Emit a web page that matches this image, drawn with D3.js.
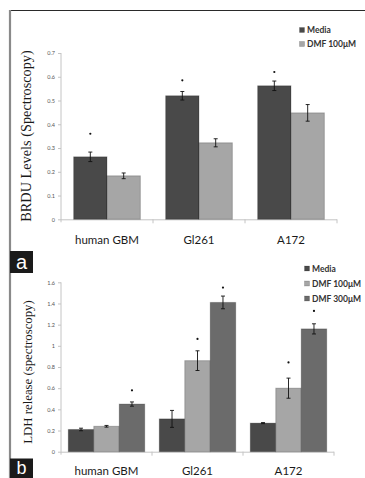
<!DOCTYPE html>
<html><head><meta charset="utf-8">
<script src="https://cdn.jsdelivr.net/npm/d3@7"></script>
<style>
html,body{margin:0;padding:0;background:#fff;}
svg{display:block;}
</style></head>
<body>
<svg id="chart" width="365" height="478"></svg>
<script>
// ---------- Data ----------
const categories = ["human GBM", "Gl261", "A172"];

// Panel a: BRDU levels
const brduSeries = ["Media", "DMF 100μM"];
const brduMedia = [0.263, 0.52, 0.562];
const brduDMF100 = [0.183, 0.322, 0.448];
const brduMediaErr = [0.02, 0.018, 0.02];
const brduDMF100Err = [0.012, 0.017, 0.035];
// asterisk heights (value units) for Media bars
const brduMediaStar = [0.36, 0.585, 0.62];
const brduTicks = [0, 0.1, 0.2, 0.3, 0.4, 0.5, 0.6, 0.7];
const brduTickLabels = ["0", "0.1", "0.2", "0.3", "0.4", "0.5", "0.6", "0.7"];

// Panel b: LDH release
const ldhSeries = ["Media", "DMF 100μM", "DMF 300μM"];
const ldhMedia = [0.21, 0.31, 0.27];
const ldhDMF100 = [0.24, 0.86, 0.60];
const ldhDMF300 = [0.45, 1.41, 1.16];
const ldhMediaErr = [0.012, 0.08, 0.005];
const ldhDMF100Err = [0.008, 0.093, 0.095];
const ldhDMF300Err = [0.02, 0.06, 0.048];
// asterisk heights (value units); null = no asterisk
const ldhDMF100Star = [null, 1.065, 0.843];
const ldhDMF300Star = [0.58, 1.55, 1.33];
const ldhTicks = [0, 0.2, 0.4, 0.6, 0.8, 1, 1.2, 1.4, 1.6];
const ldhTickLabels = ["0", "0.2", "0.4", "0.6", "0.8", "1", "1.2", "1.4", "1.6"];

const seriesColors = {"Media": "#494949", "DMF 100μM": "#a6a6a6", "DMF 300μM": "#6b6b6b"};

// ---------- Drawing ----------
const svg = d3.select("#chart");

// figure frame
svg.append("line").attr("x1", 10).attr("x2", 365).attr("y1", 10.5).attr("y2", 10.5)
  .attr("stroke", "#2a2a2a").attr("stroke-width", 1.2);
svg.append("line").attr("x1", 10).attr("x2", 10).attr("y1", 10).attr("y2", 478)
  .attr("stroke", "#8a8a8a").attr("stroke-width", 2.2);

function panel(cfg) {
  const g = svg.append("g");
  const x0 = d3.scaleBand().domain(categories).range(cfg.xRange)
    .paddingInner(cfg.pad).paddingOuter(cfg.pad / 2);
  const x1 = d3.scaleBand().domain(cfg.series).range([0, x0.bandwidth()]);
  const y = d3.scaleLinear().domain([cfg.ticks[0], cfg.ticks[cfg.ticks.length - 1]]).range(cfg.yRange);

  // y axis
  const yAxis = d3.axisLeft(y).tickValues(cfg.ticks)
    .tickFormat((d, i) => cfg.tickLabels[i]).tickSize(3).tickPadding(3);
  const ya = g.append("g").attr("transform", `translate(${cfg.xRange[0]},0)`).call(yAxis);
  ya.select(".domain").attr("stroke", "#c4c4c4").attr("d", `M-0,${cfg.yRange[1]}V${cfg.yRange[0] + 3}`);
  ya.selectAll(".tick line").attr("stroke", "#c4c4c4");
  ya.selectAll(".tick text").attr("fill", "#555").style("font-family", "Lato, 'DejaVu Sans', sans-serif")
    .style("font-size", "5.5px");

  // x axis line + boundary ticks
  const base = y(0);
  g.append("line").attr("x1", cfg.xRange[0]).attr("x2", cfg.xRange[1])
    .attr("y1", base + 0.5).attr("y2", base + 0.5).attr("stroke", "#c4c4c4");
  const bounds = d3.range(1, categories.length + 1).map(i => cfg.xRange[0] + i * x0.step());
  g.selectAll(".xt").data(bounds).join("line")
    .attr("x1", d => d).attr("x2", d => d).attr("y1", base).attr("y2", base + 4)
    .attr("stroke", "#c4c4c4");

  // bars
  categories.forEach((c, ci) => {
    cfg.series.forEach((s, si) => {
      const v = cfg.values[si][ci];
      const bx = x0(c) + x1(s);
      g.append("rect").attr("x", bx).attr("y", y(v)).attr("width", x1.bandwidth())
        .attr("height", base - y(v)).attr("fill", seriesColors[s])
        .attr("stroke", "rgba(0,0,0,0.22)").attr("stroke-width", 1);
      const e = cfg.errs[si][ci];
      const cx = bx + x1.bandwidth() / 2;
      const eg = g.append("g").attr("stroke", "#111").attr("stroke-width", 0.9);
      eg.append("line").attr("x1", cx).attr("x2", cx).attr("y1", y(v + e)).attr("y2", y(v - e));
      eg.append("line").attr("x1", cx - 2).attr("x2", cx + 2).attr("y1", y(v + e)).attr("y2", y(v + e));
      eg.append("line").attr("x1", cx - 2).attr("x2", cx + 2).attr("y1", y(v - e)).attr("y2", y(v - e));
      const st = cfg.stars[si] ? cfg.stars[si][ci] : null;
      if (st != null) {
        g.append("circle").attr("cx", cx).attr("cy", y(st)).attr("r", 1.1).attr("fill", "#111");
      }
    });
    g.append("text").attr("x", x0(c) + x0.bandwidth() / 2).attr("y", cfg.labelY)
      .attr("text-anchor", "middle").attr("fill", "#1a1a1a")
      .style("font-family", "Lato, 'Open Sans', sans-serif").style("font-size", "11.5px")
      .text(c);
  });

  // y title
  g.append("text").attr("transform", `translate(${cfg.titleX},${cfg.titleY}) rotate(-90)`)
    .attr("text-anchor", "middle").attr("fill", "#1a1a1a")
    .style("font-family", "'Liberation Serif', 'DejaVu Serif', serif").style("font-size", cfg.titleSize)
    .text(cfg.title);

  // legend
  cfg.series.forEach((s, i) => {
    const ly = cfg.legY + i * cfg.legStep;
    g.append("rect").attr("x", cfg.legX).attr("y", ly - 2.5).attr("width", 5).attr("height", 5)
      .attr("fill", seriesColors[s]).attr("stroke", "rgba(0,0,0,0.25)").attr("stroke-width", 0.6);
    g.append("text").attr("x", cfg.legX + 7.5).attr("y", ly + 3).attr("fill", "#333")
      .style("font-family", "Lato, 'Open Sans', sans-serif").style("font-size", "8.5px")
      .style("font-weight", "bold").text(s);
  });

  // panel letter
  g.append("rect").attr("x", 10).attr("y", cfg.letterY).attr("width", 23).attr("height", cfg.letterH).attr("fill", "#1a1a1a");
  g.append("text").attr("x", 21.5).attr("y", cfg.letterY + cfg.letterBase).attr("text-anchor", "middle")
    .attr("fill", "#fff").style("font-family", "'Liberation Sans', Arial, sans-serif").style("font-size", cfg.letterSize)
    .text(cfg.letter);
}

panel({
  series: brduSeries,
  values: [brduMedia, brduDMF100],
  errs: [brduMediaErr, brduDMF100Err],
  stars: [brduMediaStar, null],
  ticks: brduTicks, tickLabels: brduTickLabels,
  xRange: [61, 337], yRange: [219.3, 53], pad: 0.275,
  labelY: 244, title: "BRDU Levels (Spectroscopy)", titleX: 31, titleY: 136, titleSize: "14.3px",
  legX: 299.5, legY: 30, legStep: 14,
  letter: "a", letterY: 251, letterH: 22, letterBase: 17.5, letterSize: "20px"
});

panel({
  series: ldhSeries,
  values: [ldhMedia, ldhDMF100, ldhDMF300],
  errs: [ldhMediaErr, ldhDMF100Err, ldhDMF300Err],
  stars: [null, ldhDMF100Star, ldhDMF300Star],
  ticks: ldhTicks, tickLabels: ldhTickLabels,
  xRange: [61, 334], yRange: [451.7, 282.3], pad: 0.16,
  labelY: 474.5, title: "LDH release (spectroscopy)", titleX: 32, titleY: 372, titleSize: "12.8px",
  legX: 304.5, legY: 268.5, legStep: 15,
  letter: "b", letterY: 458.5, letterH: 20, letterBase: 15.5, letterSize: "18px"
});
</script>
</body></html>
